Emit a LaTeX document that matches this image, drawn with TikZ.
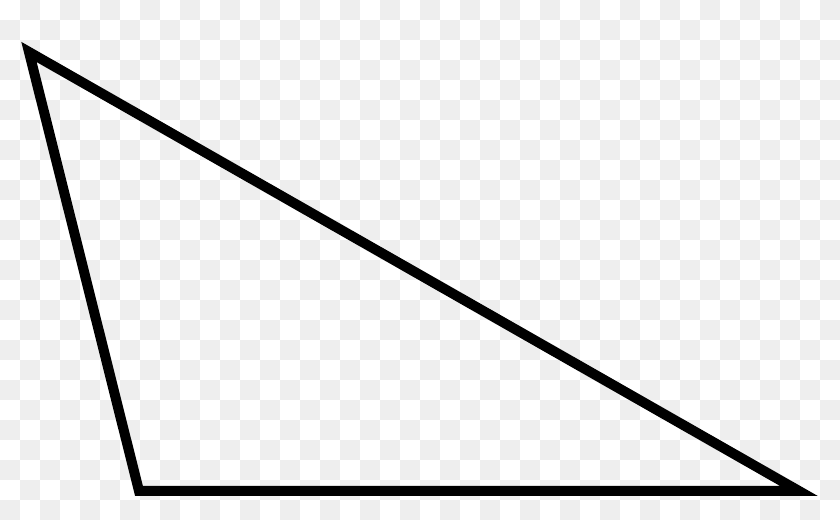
\documentclass[tikz,border=0pt]{standalone}
\usepackage{tikz}
\usepackage{xcolor}
\definecolor{bglight}{RGB}{238,238,238}
\tikzstyle{edge} = [line width=0.2cm, line join=miter, color=black]

\begin{document}
\begin{tikzpicture}[
    x=0.02cm, y=-0.02cm,
    tile/.style={fill=bglight, draw=none}
]

% Canvas
\useasboundingbox (0,0) rectangle (840,520);
\fill[white] (0,0) rectangle (840,520);

% Checkerboard background
\foreach \i in {0,2,...,40}
    \foreach \j in {1,3,...,25}
        \path[tile] (20*\i,20*\j) rectangle +(20,20);
\foreach \i in {1,3,...,41}
    \foreach \j in {0,2,...,24}
        \path[tile] (20*\i,20*\j) rectangle +(20,20);

% Corners
\coordinate (apex) at (29,52);
\coordinate (left) at (139,491);
\coordinate (right) at (799,491);

% Triangle
\draw[edge] (apex) -- (left) -- (right) -- cycle;

\end{tikzpicture}
\end{document}
